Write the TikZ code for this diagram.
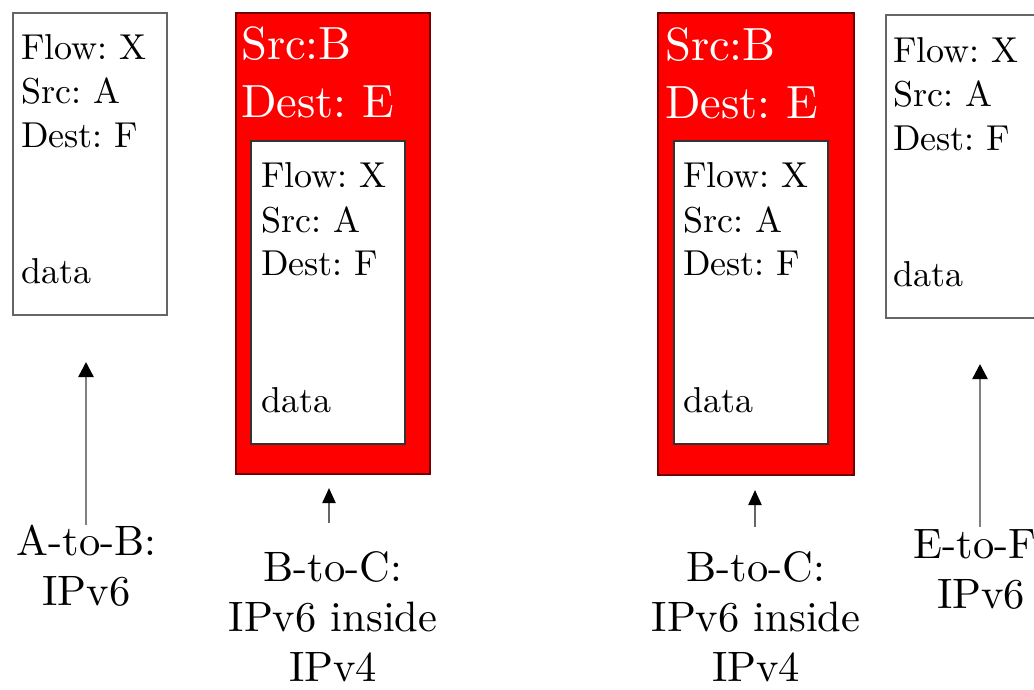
\documentclass[tikz,border=0pt]{standalone}
\usepackage{fontspec}
\setmainfont{lmroman10-regular}[Extension=.otf]
\usetikzlibrary{arrows.meta,calc}
% stacked lines whose baseline is the first line
\newcommand{\stk}[1]{\begin{tabular}[t]{@{}l@{}}#1\end{tabular}}

\begin{document}
\frenchspacing
\begin{tikzpicture}[x=1pt,y=-1pt,
  pkt/.style={draw=black!60,line width=2.4pt,fill=white,anchor=north west,inner sep=0pt},
  tunnel/.style={draw=red!45!black,line width=2pt,fill=red,anchor=north west,inner sep=0pt},
  hdr/.style={anchor=base west,inner sep=0pt,font=\fontsize{36}{44}\selectfont},
  hdrfour/.style={anchor=base west,inner sep=0pt,text=white,font=\fontsize{46.5}{58}\selectfont},
  caption/.style={anchor=north,inner sep=0pt,align=center,font=\fontsize{42.5}{50}\selectfont},
  hop/.style={draw=black!50,line width=2.5pt,-{Triangle[black,width=15pt,length=15pt]}},
  shorthop/.style={draw=black!60,line width=2.2pt,-{Triangle[black,width=13pt,length=15pt]}},
]
\useasboundingbox (0,0) rectangle (1034,690);

% plain IPv6 packet, A to B
\node[pkt,minimum width=154pt,minimum height=302pt] (p1) at (12,12) {};
\node[hdr] (p1h) at (21,60) {\stk{Flow: X\\Src: A\\Dest: F}};
\node[hdr] (p1d) at (21,283) {data};

% IPv6 packet tunnelled in IPv4, first hop
\node[tunnel,minimum width=194pt,minimum height=461pt] (t1) at (235,12) {};
\node[hdrfour] (t1h) at (241,60) {\stk{Src:B\\Dest: E}};
\node[pkt,draw=black!80,minimum width=154pt,minimum height=303pt] (i1) at (250,140) {};
\node[hdr] (i1h) at (261,188) {\stk{Flow: X\\Src: A\\Dest: F}};
\node[hdr] (i1d) at (261,412) {data};

% IPv6 packet tunnelled in IPv4, second hop
\node[tunnel,minimum width=196pt,minimum height=462pt] (t2) at (657,12) {};
\node[hdrfour] (t2h) at (665,61) {\stk{Src:B\\Dest: E}};
\node[pkt,draw=black!80,minimum width=154pt,minimum height=303pt] (i2) at (673,140) {};
\node[hdr] (i2h) at (683,188) {\stk{Flow: X\\Src: A\\Dest: F}};
\node[hdr] (i2d) at (683,412) {data};

% plain IPv6 packet, E to F
\node[pkt,minimum width=154pt,minimum height=303pt] (p2) at (885,14) {};
\node[hdr] (p2h) at (893,63) {\stk{Flow: X\\Src: A\\Dest: F}};
\node[hdr] (p2d) at (893,286) {data};

% captions
\node[caption] (c1) at (86.5,525) {A-to-B:\\IPv6};
\node[caption] (c2) at (333,551) {B-to-C:\\IPv6 inside\\IPv4};
\node[caption] (c3) at (756,551) {B-to-C:\\IPv6 inside\\IPv4};
\node[caption] (c4) at (981,529) {E-to-F:\\IPv6};

% arrow heads
\coordinate (h1) at (86,362);
\coordinate (h2) at (329,488);
\coordinate (h3) at (755,490);
\coordinate (h4) at (980,364);

\draw[hop] (h1 |- c1.north) -- (h1);
\draw[shorthop] ($(h2 |- c2.north)+(0,-28)$) -- (h2);
\draw[shorthop] ($(h3 |- c3.north)+(0,-24)$) -- (h3);
\draw[hop] ($(h4 |- c4.north)+(0,-2)$) -- (h4);
\end{tikzpicture}
\end{document}
